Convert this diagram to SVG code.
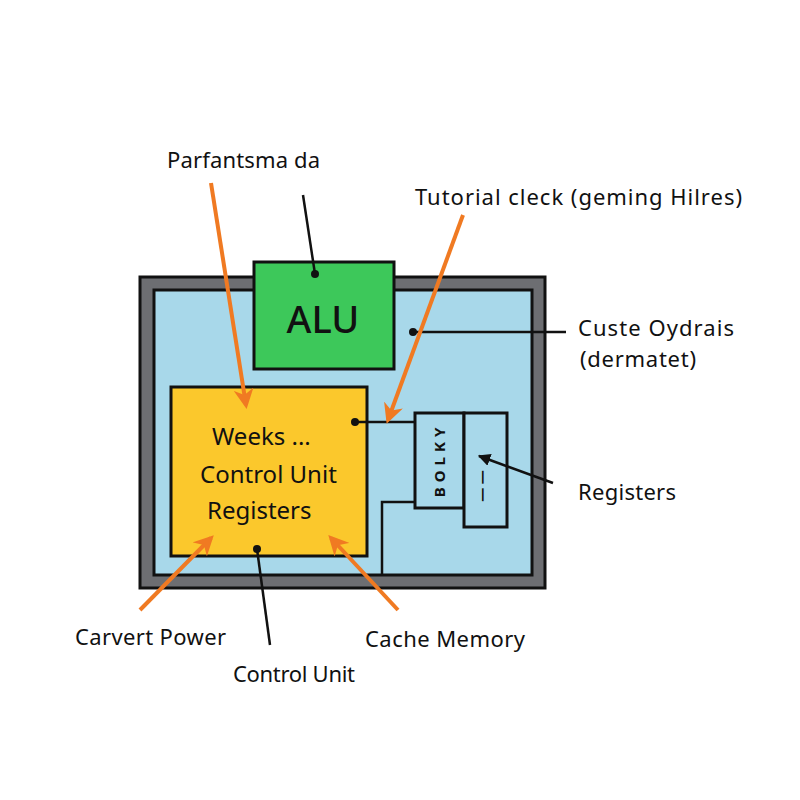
<svg xmlns="http://www.w3.org/2000/svg" width="800" height="800" viewBox="0 0 800 800">
<defs>
<marker id="oa" viewBox="0 0 10 10" refX="8" refY="5" markerWidth="5" markerHeight="5" orient="auto" markerUnits="strokeWidth"><path d="M0,0 L10,5 L0,10 L3,5 z" fill="#f07a22"/></marker>
<marker id="ba" viewBox="0 0 10 10" refX="9" refY="5" markerWidth="5" markerHeight="5" orient="auto" markerUnits="strokeWidth"><path d="M0,0 L10,5 L0,10 z" fill="#111"/></marker>
</defs>
<style>
.t{font-family:"Noto Sans","Open Sans","Liberation Sans",sans-serif;fill:#111}
.lbl{font-size:22px}
.o{stroke:#f07a22;stroke-width:4;fill:none;marker-end:url(#oa)}
.k{stroke:#111;stroke-width:2.5;fill:none}
.box{stroke:#111;stroke-width:3}
</style>
<rect width="800" height="800" fill="#ffffff"/>
<g id="frame">
<rect x="140" y="277" width="405" height="311" fill="#6d6e72" class="box"/>
<rect x="154" y="290" width="378" height="285" fill="#a8d8ea" class="box"/>
</g>
<g id="alu">
<rect x="254" y="262" width="140" height="107" fill="#3dc85a" class="box"/>
<text x="323" y="333" class="t" font-size="38" font-weight="500" text-anchor="middle">ALU</text>
</g>
<g id="control">
<rect x="171" y="387" width="196" height="169" fill="#fbc82c" class="box"/>
<text x="212" y="445" class="t" font-size="24">Weeks ...</text>
<text x="200" y="483" class="t" font-size="24">Control Unit</text>
<text x="207" y="519" class="t" font-size="24">Registers</text>
</g>
<g id="registers">
<rect x="415" y="413" width="49" height="95" fill="#a8d8ea" class="box"/>
<rect x="464" y="413" width="43" height="114" fill="#a8d8ea" class="box"/>
<text transform="translate(445,460) rotate(-90)" class="t" font-size="15" font-weight="bold" text-anchor="middle" letter-spacing="5">BOLKY</text>
<text transform="translate(479,486) rotate(90)" class="t" font-size="14" font-weight="bold" text-anchor="middle">— —</text>
</g>
<g id="connectors">
<path class="k" d="M415,502 H382 V575"/>
<path class="k" d="M355,422 H415"/>
<circle cx="355" cy="422" r="4" fill="#111"/>
<path class="k" d="M303,195 L315,274"/>
<circle cx="315" cy="274" r="4" fill="#111"/>
<path class="k" d="M413,332 H566"/>
<circle cx="413" cy="332" r="4" fill="#111"/>
<path class="k" d="M257,549 L270,645"/>
<circle cx="257" cy="549" r="4" fill="#111"/>
<path class="k" d="M553,483 L479,456" marker-end="url(#ba)"/>
<path class="o" d="M211,183 L246,405"/>
<path class="o" d="M463,215 L388,420"/>
<path class="o" d="M140,610 L211,538"/>
<path class="o" d="M398,610 L331,538"/>
</g>
<g id="labels">
<text x="167" y="168" class="t lbl" textLength="153">Parfantsma da</text>
<text x="415" y="205" class="t lbl" textLength="327">Tutorial cleck (geming Hilres)</text>
<text x="578" y="336" class="t lbl" textLength="156">Custe Oydrais</text>
<text x="580" y="367" class="t lbl" textLength="116">(dermatet)</text>
<text x="578" y="500" class="t lbl" textLength="98">Registers</text>
<text x="75" y="645" class="t lbl" textLength="151">Carvert Power</text>
<text x="365" y="647" class="t lbl" textLength="160">Cache Memory</text>
<text x="233" y="682" class="t lbl" textLength="122">Control Unit</text>
</g>
</svg>
